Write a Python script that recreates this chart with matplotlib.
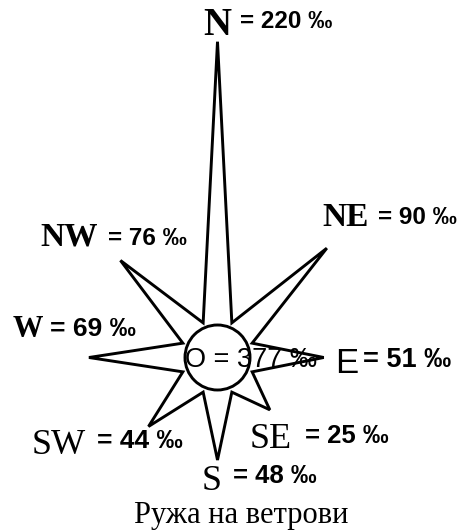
import numpy as np
import matplotlib.pyplot as plt
from matplotlib.patches import Polygon, Circle

# wind rose data (per mille)
directions = ['N', 'NE', 'E', 'SE', 'S', 'SW', 'W', 'NW']
freq = [220, 90, 51, 25, 48, 44, 69, 76]
calm = 377
caption = 'Ружа на ветрови'

# layout (pixel units, y goes down)
cx, cy = 217.5, 357.5
base_r = 43.0
k = 1.24
valley_r = 37.5
circle_r = 32.5
angles = [90, 45, 0, -45, -90, -135, 180, 135]

# label placement: letter (x, baseline, size, weight, family), value (x, baseline, size)
letter_pos = {
    'N': (203, 35, 28, 'bold', 'Liberation Serif'),
    'NE': (322, 226, 24, 'bold', 'Liberation Serif'),
    'E': (335, 373, 25, 'normal', 'Liberation Sans'),
    'SE': (250, 448, 26, 'normal', 'Liberation Serif'),
    'S': (202, 490, 26, 'normal', 'Liberation Serif'),
    'SW': (32, 454, 26, 'normal', 'Liberation Serif'),
    'W': (13, 337, 22, 'bold', 'Liberation Serif'),
    'NW': (40, 245, 24, 'bold', 'Liberation Serif'),
}
value_pos = {
    'N': (240, 28, 17.5),
    'NE': (378, 224, 17.5),
    'E': (363, 367, 19.5),
    'SE': (305, 443, 18.5),
    'S': (233, 483, 18.5),
    'SW': (97, 448, 19),
    'W': (50, 336, 19),
    'NW': (108, 245, 17.5),
}

fig = plt.figure(figsize=(4.71, 5.31), dpi=100)
ax = fig.add_axes([0, 0, 1, 1])
ax.set_xlim(0, 471)
ax.set_ylim(531, 0)
ax.axis('off')

# star outline: tip, valley, tip, valley ...
pts = []
for a, v in zip(angles, freq):
    L = base_r + k * v
    t = np.radians(a)
    pts.append((cx + L * np.cos(t), cy - L * np.sin(t)))
    t2 = np.radians(a - 22.5)
    pts.append((cx + valley_r * np.cos(t2), cy - valley_r * np.sin(t2)))

ax.add_patch(Polygon(pts, closed=True, fill=False, edgecolor='black', lw=2.1,
                     joinstyle='miter', zorder=3))
ax.add_patch(Circle((cx, cy), circle_r, fill=False, edgecolor='black', lw=2.1, zorder=3))

ax.text(185, 367, 'O = %d ‰' % calm, fontsize=19.5, family='Liberation Sans',
        ha='left', va='baseline', zorder=2)

for d, v in zip(directions, freq):
    x, y, s, w, fam = letter_pos[d]
    ax.text(x, y, d, fontsize=s, fontweight=w, family=fam, ha='left', va='baseline')
    x2, y2, s2 = value_pos[d]
    ax.text(x2, y2, '= %d ‰' % v, fontsize=s2, fontweight='bold',
            family='Liberation Sans', ha='left', va='baseline')

ax.text(241, 523, caption, fontsize=22, family='Liberation Serif',
        ha='center', va='baseline')

fig.savefig('out.png', dpi=100)
